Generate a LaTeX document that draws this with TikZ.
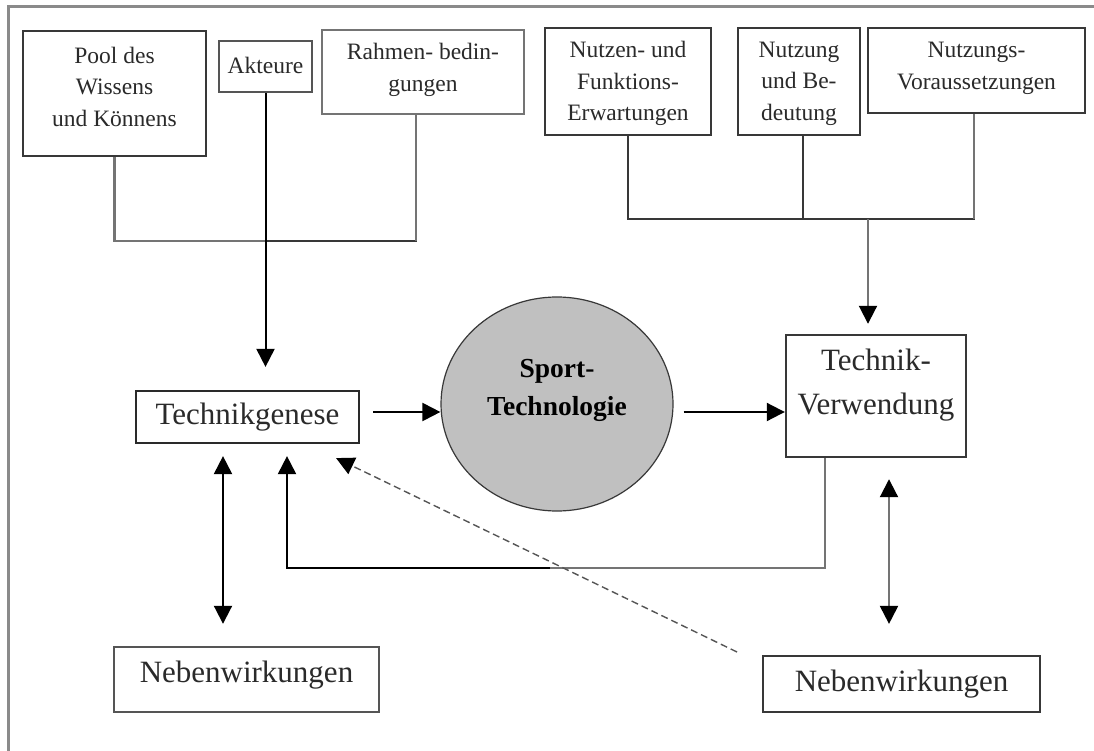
\documentclass[tikz,border=0pt]{standalone}
\usepackage{fontspec}
\setmainfont{Liberation Serif}
\usetikzlibrary{arrows.meta,shapes.geometric,calc}
\definecolor{ink}{HTML}{2A2A2A}
\definecolor{edge}{HTML}{383838}
\definecolor{edgemid}{HTML}{555555}
\definecolor{edgelight}{HTML}{747474}
\definecolor{frame}{HTML}{8A8A8A}
\definecolor{disc}{HTML}{C0C0C0}
\newcommand{\smalltxt}{\fontsize{23.5}{31.5}\selectfont}
\newcommand{\bigtxt}{\fontsize{31}{44}\selectfont}
\begin{document}
\begin{tikzpicture}[x=1pt,y=-1pt,
  box/.style={draw=edge,line width=2.4pt,inner sep=0pt,fill=white},
  lbl/.style={inner sep=0pt,align=center,text=ink},
  conn/.style={line width=2pt,draw=edge},
  connlight/.style={line width=2.2pt,draw=edgelight},
  tip/.style={Triangle[length=18pt,width=18pt,color=black]},
  arr/.style={line width=2pt,draw=black,-{Triangle[length=18pt,width=18pt,color=black]}},
  darr/.style={line width=2pt,draw=black,{Triangle[length=18pt,width=18pt,color=black]}-{Triangle[length=18pt,width=18pt,color=black]}}
]
\useasboundingbox (0,0) rectangle (1094,751);

% frame (open to the right and bottom)
\draw[frame,line width=3pt] (8,751) -- (8,7) -- (1094,7);

% top row, left group
\node[box,draw=edge,minimum width=183pt,minimum height=125pt,
  label={[lbl,font=\smalltxt,yshift=7pt]center:Pool des\\Wissens\\und Könnens}]
  (pool) at (114.5,93.5) {};
\node[box,draw=edgemid,minimum width=93pt,minimum height=51pt,
  label={[lbl,font=\smalltxt,yshift=1pt]center:Akteure}]
  (akt) at (265.5,66.5) {};
\node[box,draw=edgelight,line width=1.8pt,minimum width=202pt,minimum height=84pt,
  label={[lbl,font=\smalltxt,yshift=2pt]center:Rahmen- bedin-\\gungen}]
  (rahmen) at (423,72) {};

% top row, right group
\node[box,minimum width=166pt,minimum height=107pt,
  label={[lbl,font=\smalltxt,yshift=-2pt]center:Nutzen- und\\Funktions-\\Erwartungen}]
  (nutzen) at (628,81.5) {};
\node[box,minimum width=122pt,minimum height=107pt,
  label={[lbl,font=\smalltxt,yshift=-2pt]center:Nutzung\\und Be-\\deutung}]
  (nutzung) at (799,81.5) {};
\node[box,minimum width=217pt,minimum height=85pt,
  label={[lbl,font=\smalltxt,yshift=2pt]center:Nutzungs-\\Voraussetzungen}]
  (nv) at (976.5,70.5) {};

% middle row
\node[box,draw=ink,line width=2.2pt,minimum width=223pt,minimum height=52pt,
  label={[lbl,font=\bigtxt]center:Technikgenese}]
  (tg) at (247.5,417) {};
\node[ellipse,draw=edge,line width=1.2pt,fill=disc,inner sep=0pt,
  minimum width=232pt,minimum height=214pt,
  label={[lbl,text=black,font=\bfseries\fontsize{27.5}{38}\selectfont,yshift=14pt]center:Sport-\\Technologie}]
  (circ) at (557,404) {};
\node[box,minimum width=180pt,minimum height=122pt,
  label={[lbl,font=\bigtxt,yshift=11pt]center:Technik-\\Verwendung}]
  (tv) at (876,396) {};

% bottom row
\node[box,draw=edgemid,minimum width=265pt,minimum height=65pt,
  label={[lbl,font=\bigtxt,yshift=4pt]center:Nebenwirkungen}]
  (nebl) at (246.5,679.5) {};
\node[box,draw=edge,line width=2.2pt,minimum width=277pt,minimum height=56pt,
  label={[lbl,font=\bigtxt]center:Nebenwirkungen}]
  (nebr) at (901.5,684) {};

% junctions
\coordinate (jl) at (266,241);
\coordinate (jr) at (868,219);
\coordinate (fb) at (550,568);
\coordinate (dstart) at (737,652);

% left inputs into Technikgenese
\draw[connlight] (pool.south) |- (jl);
\draw[conn] (jl) -| ([xshift=-7pt]rahmen.south);
\draw[connlight] ([xshift=-7pt]rahmen.south) -- ([xshift=-7pt]rahmen.south |- jl);
\draw[arr,shorten >=23pt] (akt.south) -- (akt.south |- tg.north);

% right inputs into Technik-Verwendung
\draw[conn] (nutzen.south) |- (jr);
\draw[conn] ([xshift=4pt]nutzung.south) -- ([xshift=4pt]nutzung.south |- jr);
\draw[conn] (jr) -| ([xshift=-2.5pt]nv.south);
\draw[connlight] ([xshift=-2.5pt]nv.south) -- ([xshift=-2.5pt]nv.south |- jr);
\draw[arr,draw=edgelight,shorten >=10pt] (jr) -- (jr |- tv.north);

% main flow
\draw[arr] ([xshift=13pt,yshift=5pt]tg.east) coordinate (s1) -- (s1 -| circ.west);
\draw[arr] ($(circ.east |- s1)+(10,0)$) -- (s1 -| tv.west);

% feedback from Technik-Verwendung to Technikgenese
\draw[connlight] ([xshift=-51pt]tv.south) |- (fb);
\draw[arr,shorten >=12pt] (fb) -| ([xshift=39.5pt]tg.south);

% side effects
\draw[darr,shorten <=12pt,shorten >=22pt] ([xshift=-24.5pt]tg.south) -- ([xshift=-24.5pt]tg.south |- nebl.north);
\draw[darr,draw=edgelight,shorten <=21pt,shorten >=31pt] ([xshift=13pt]tv.south) -- ([xshift=13pt]tv.south |- nebr.north);
\draw[arr,line width=1.4pt,draw=edgemid,dash pattern=on 7pt off 4pt] (dstart) -- ($(tg.south east)+(-24,14)$);
\end{tikzpicture}
\end{document}
